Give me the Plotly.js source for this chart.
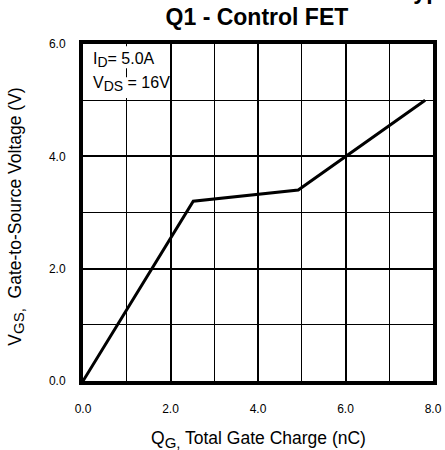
<!DOCTYPE html>
<html>
<head>
<meta charset="utf-8">
<script src="https://cdn.plot.ly/plotly-3.0.1.min.js"></script>
<style>html,body{margin:0;padding:0;background:#fff;}</style>
</head>
<body>
<div id="chart" style="width:445px;height:450px;"></div>
<script>
// Gate charge curve (Q1 - Control FET)
const qg = [0.0, 2.52, 4.92, 7.82];      // nC
const vgs = [0.0, 3.2, 3.4, 5.0];        // V
const xTicks = [0, 2, 4, 6, 8];
const xTickLabels = ["0.0", "2.0", "4.0", "6.0", "8.0"];
const yTicks = [0, 2, 4, 6];
const yTickLabels = ["0.0", "2.0", "4.0", "6.0"];

const FONT = "Arial, 'Liberation Sans', sans-serif";
const sub = (s, px) => "<sub><span style='font-size:" + px + "px'>" + s + "</span></sub>";

const trace = {
  x: qg, y: vgs, type: "scatter", mode: "lines",
  line: {color: "#000", width: 3}, hoverinfo: "none", showlegend: false
};

const axisCommon = {
  showline: true, linecolor: "#000", linewidth: 4, mirror: true,
  showgrid: true, gridcolor: "#000", gridwidth: 2,
  zeroline: false, ticks: "", tickmode: "array",
  tickfont: {family: FONT, size: 12, color: "#000"},
  minor: {dtick: 1, showgrid: true, gridcolor: "#000", gridwidth: 1, ticks: ""}
};

const layout = {
  width: 445, height: 450,
  margin: {l: 83, r: 12, t: 44, b: 69},
  paper_bgcolor: "#fff", plot_bgcolor: "#fff",
  font: {family: FONT, color: "#000"},
  title: {
    text: "<b>Q1 - Control FET</b>",
    font: {family: FONT, size: 23, color: "#000"},
    x: 0.497, xanchor: "center", xref: "paper",
    y: 0.962, yanchor: "middle", yref: "container"
  },
  xaxis: Object.assign({}, axisCommon, {
    range: [0, 8], tickvals: xTicks, ticktext: xTickLabels,
    ticklabelstandoff: 14
  }),
  yaxis: Object.assign({}, axisCommon, {
    range: [0, 6], tickvals: yTicks, ticktext: yTickLabels,
    ticklabelstandoff: 11
  }),
  shapes: [
    {type: "rect", xref: "x", yref: "y", x0: 0.06, x1: 1.93, y0: 5.57, y1: 5.96,
     fillcolor: "#fff", line: {width: 0}, layer: "above"},
    {type: "rect", xref: "x", yref: "y", x0: 0.06, x1: 1.93, y0: 5.04, y1: 5.41,
     fillcolor: "#fff", line: {width: 0}, layer: "above"}
  ],
  annotations: [
    {text: "I" + sub("D", 14) + "= 5.0A", xref: "x", yref: "y", x: 0.2, y: 5.72,
     xanchor: "left", yanchor: "middle", showarrow: false, borderpad: 0,
     font: {family: FONT, size: 16, color: "#000"}},
    {text: "V" + sub("DS", 14) + " = 16V", xref: "x", yref: "y", x: 0.2, y: 5.28,
     xanchor: "left", yanchor: "middle", showarrow: false, borderpad: 0,
     font: {family: FONT, size: 16, color: "#000"}},
    {text: "Q" + sub("G,", 15) + " Total Gate Charge (nC)", xref: "paper", yref: "paper",
     x: 0.5, y: -0.175, xanchor: "center", yanchor: "middle", showarrow: false,
     font: {family: FONT, size: 17.5, color: "#000"}},
    {text: "V" + sub("GS,", 15) + "  Gate-to-Source Voltage (V)", xref: "paper", yref: "paper",
     x: -0.191, y: 0.488, xanchor: "center", yanchor: "middle", textangle: -90, showarrow: false,
     font: {family: FONT, size: 17.5, color: "#000"}},
    {text: "<b>Typ</b>", xref: "paper", yref: "paper",
     x: 0.903, y: 1.113, xanchor: "left", yanchor: "bottom", showarrow: false,
     font: {family: FONT, size: 23, color: "#000"}}
  ]
};

Plotly.newPlot("chart", [trace], layout, {staticPlot: true, displayModeBar: false});
</script>
</body>
</html>
